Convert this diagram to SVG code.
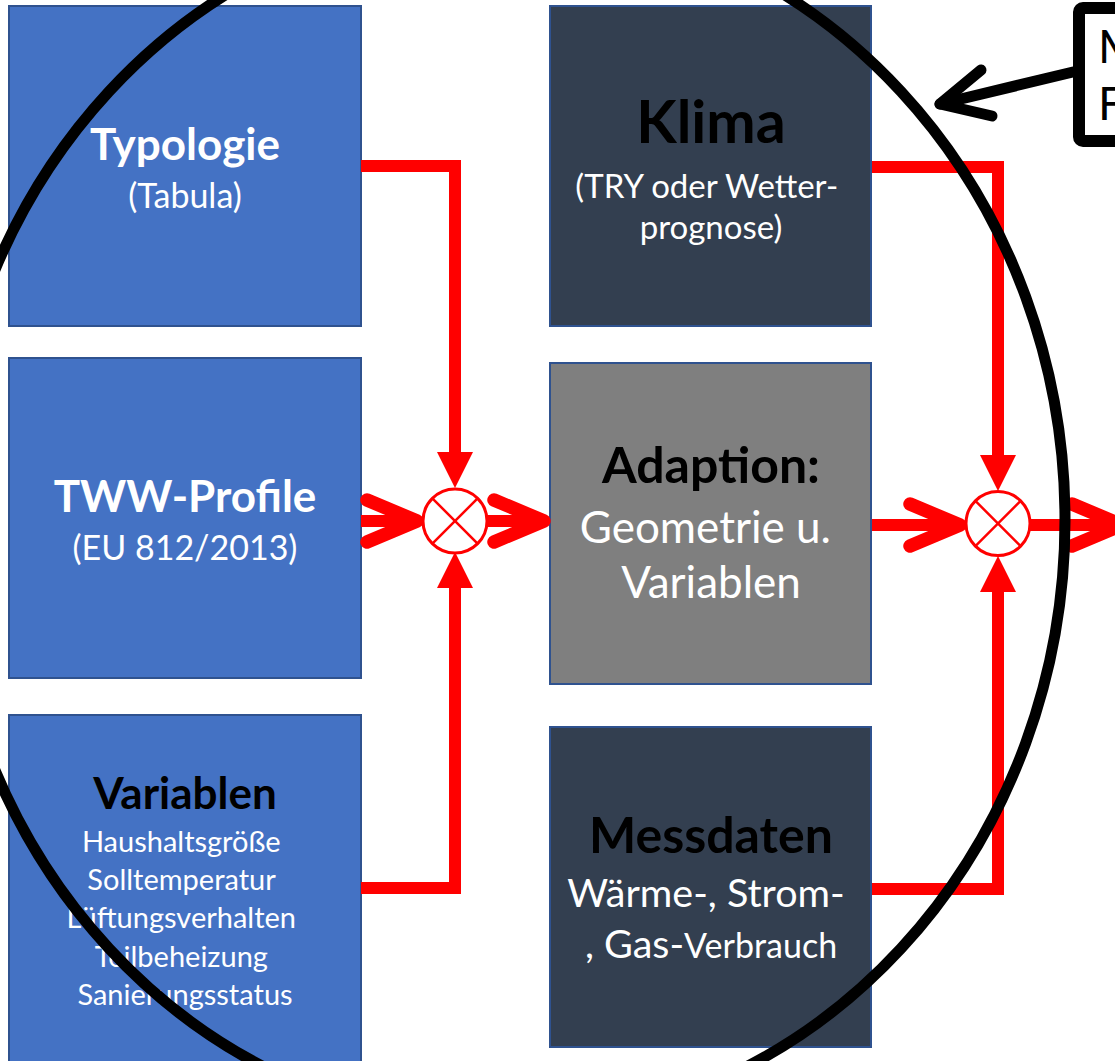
<svg xmlns="http://www.w3.org/2000/svg" width="1115" height="1061" viewBox="0 0 1115 1061">
  <style>
    .box { stroke: #2F528F; stroke-width: 2; }
    .blue { fill: #4472C4; }
    .dark { fill: #333F50; }
    .gray { fill: #7F7F7F; }
    text { font-family: Lato, "Liberation Sans", sans-serif; text-anchor: middle; }
    .title { font-weight: bold; fill: #000000; }
    .wt { fill: #FFFFFF; }
    .wire { fill: none; stroke: #FF0000; stroke-width: 12; stroke-linejoin: miter; }
    .sum circle { fill: #FFFFFF; stroke: #FF0000; stroke-width: 3; }
    .sum line { stroke: #FF0000; stroke-width: 2.5; }
    .ink { fill: none; stroke: #000000; stroke-linecap: round; stroke-linejoin: round; }
  </style>
  <defs>
    <!-- filled head for the vertical feeds into a summing junction -->
    <marker id="tri" markerUnits="userSpaceOnUse" viewBox="0 -18 36 36" refX="0" refY="0" markerWidth="36" markerHeight="36" orient="auto" overflow="visible">
      <path d="M0,-18 L36,0 L0,18 Z" fill="#FF0000"/>
    </marker>
    <!-- open chevron head for the horizontal flow -->
    <marker id="chev" markerUnits="userSpaceOnUse" viewBox="-60 -30 70 60" refX="0" refY="0" markerWidth="70" markerHeight="60" orient="auto" overflow="visible">
      <path d="M-50,-21 L0,0 L-50,21" fill="none" stroke="#FF0000" stroke-width="13.5" stroke-linecap="round" stroke-linejoin="round"/>
    </marker>
  </defs>

  <rect width="1115" height="1061" fill="#FFFFFF"/>

  <!-- input blocks, left column -->
  <g id="node-typologie">
    <rect class="box blue" x="9" y="6" width="352" height="320"/>
    <text class="title wt" x="185" y="160" font-size="44">Typologie</text>
    <text class="wt" x="185" y="208" font-size="34">(Tabula)</text>
  </g>
  <g id="node-tww">
    <rect class="box blue" x="9" y="358" width="352" height="320"/>
    <text class="title wt" x="185" y="512" font-size="44">TWW-Profile</text>
    <text class="wt" x="185" y="560" font-size="34">(EU 812/2013)</text>
  </g>
  <g id="node-variablen">
    <rect class="box blue" x="9" y="715" width="352" height="370"/>
    <text class="title" x="185" y="809" font-size="44">Variablen</text>
    <text class="wt" font-size="29">
      <tspan x="185" y="852">Haushaltsgröße</tspan>
      <tspan x="185" y="890">Solltemperatur</tspan>
      <tspan x="185" y="928">Lüftungsverhalten</tspan>
      <tspan x="185" y="967">Teilbeheizung</tspan>
      <tspan x="185" y="1005">Sanierungsstatus</tspan>
    </text>
  </g>

  <!-- middle column -->
  <g id="node-klima">
    <rect class="box dark" x="550" y="6" width="321" height="320"/>
    <text class="title" x="711" y="143" font-size="59">Klima</text>
    <text class="wt" font-size="33">
      <tspan x="711" y="198">(TRY oder Wetter-</tspan>
      <tspan x="711" y="239">prognose)</tspan>
    </text>
  </g>
  <g id="node-adaption">
    <rect class="box gray" x="550" y="363" width="321" height="321"/>
    <text class="title" x="711" y="483" font-size="50">Adaption:</text>
    <text class="wt" font-size="44">
      <tspan x="711" y="543">Geometrie u.</tspan>
      <tspan x="711" y="598">Variablen</tspan>
    </text>
  </g>
  <g id="node-messdaten">
    <rect class="box dark" x="550" y="727" width="321" height="320"/>
    <text class="title" x="711" y="853" font-size="50">Messdaten</text>
    <text class="wt" font-size="39.5">
      <tspan x="711" y="907">Wärme-, Strom-</tspan>
      <tspan x="711" y="958">, Gas-<tspan font-size="34">Verbrauch</tspan></tspan>
    </text>
  </g>

  <!-- red signal paths -->
  <g id="connectors">
    <path class="wire" d="M361,166 H455 V452" marker-end="url(#tri)"/>
    <path class="wire" d="M361,888 H455 V588" marker-end="url(#tri)"/>
    <path class="wire" d="M361,521 H417" marker-end="url(#chev)"/>
    <path class="wire" d="M487,521 H544" marker-end="url(#chev)"/>
    <path class="wire" d="M872,167 H998 V455" marker-end="url(#tri)"/>
    <path class="wire" d="M872,889 H998 V592" marker-end="url(#tri)"/>
    <path class="wire" d="M872,525 H960" marker-end="url(#chev)"/>
    <path class="wire" d="M1030,525 H1122" marker-end="url(#chev)"/>
  </g>

  <!-- summing junctions -->
  <g id="node-sum-1" class="sum">
    <circle cx="455" cy="521" r="32"/>
    <line x1="432.4" y1="498.4" x2="477.6" y2="543.6"/>
    <line x1="477.6" y1="498.4" x2="432.4" y2="543.6"/>
  </g>
  <g id="node-sum-2" class="sum">
    <circle cx="998" cy="523.5" r="32"/>
    <line x1="975.4" y1="500.9" x2="1020.6" y2="546.1"/>
    <line x1="1020.6" y1="500.9" x2="975.4" y2="546.1"/>
  </g>

  <!-- highlight ring and callout -->
  <g id="highlight">
    <ellipse class="ink" cx="505" cy="520" rx="560" ry="606" stroke-width="11"/>
  </g>
  <g id="callout">
    <rect x="1079" y="8" width="60" height="133" rx="4" fill="#FFFFFF" stroke="#000000" stroke-width="12"/>
    <text x="1098" y="63" font-size="46" style="text-anchor:start">M</text>
    <text x="1098" y="120" font-size="46" style="text-anchor:start">F</text>
    <path class="ink" d="M1073,72 L940,104" stroke-width="11"/>
    <path class="ink" d="M981,70 L940,104 L992,116" stroke-width="11"/>
  </g>
</svg>
